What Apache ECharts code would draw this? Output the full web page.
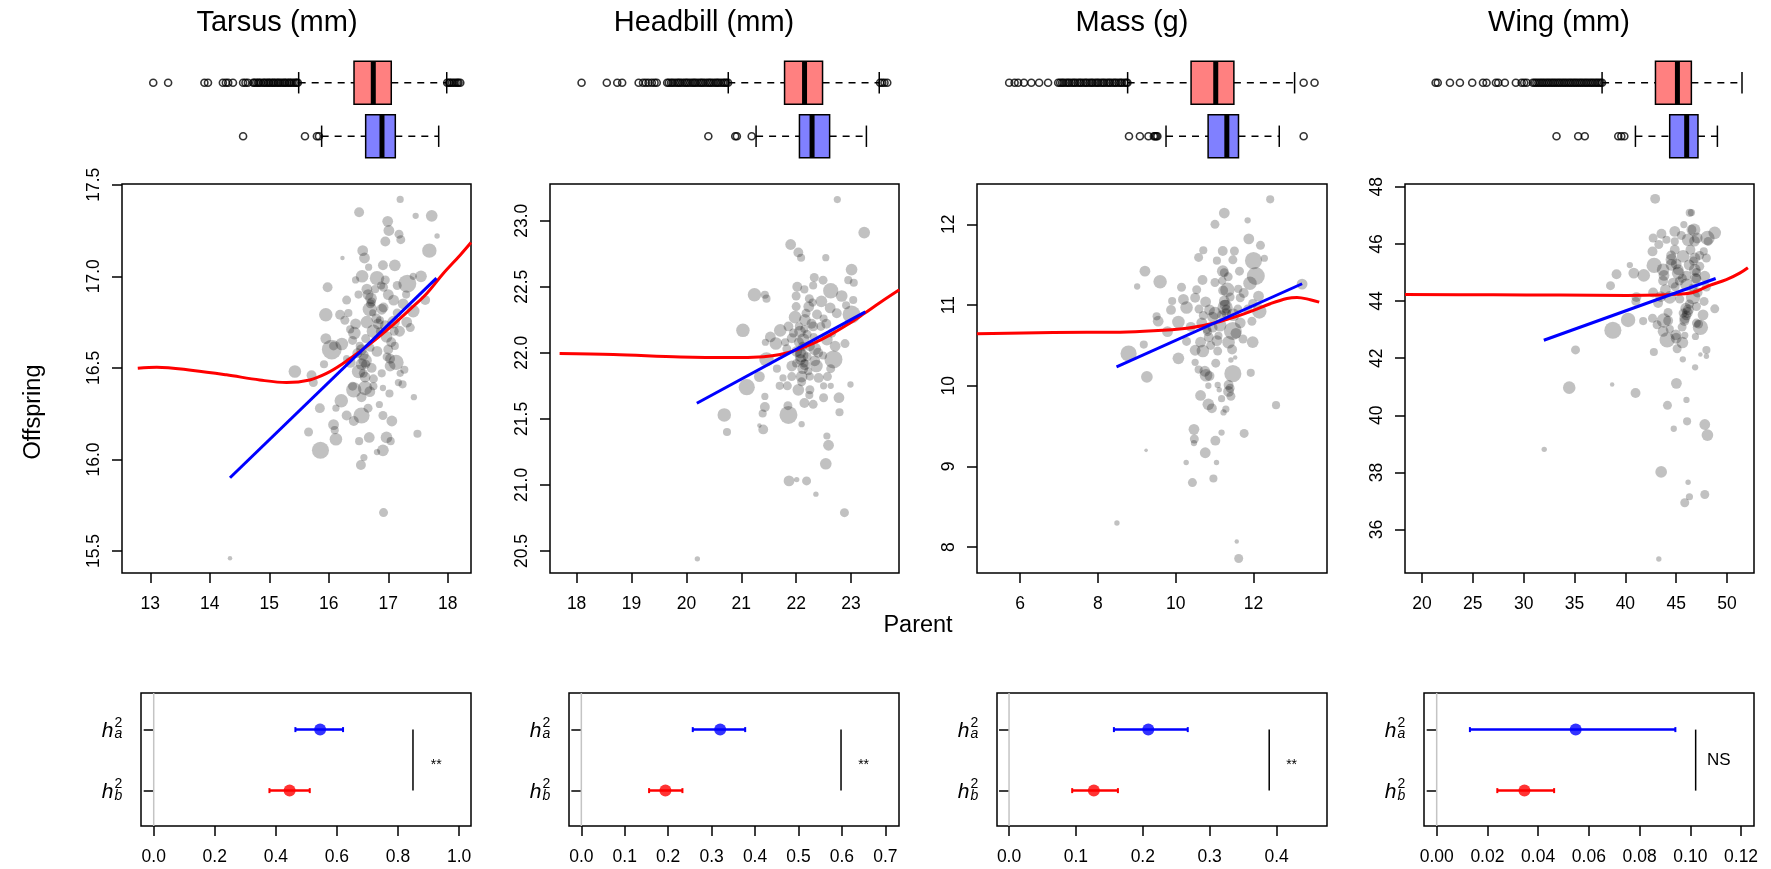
<!DOCTYPE html>
<html>
<head>
<meta charset="utf-8">
<script src="https://cdn.jsdelivr.net/npm/echarts@6/dist/echarts.min.js"></script>
<style>
html, body { margin: 0; padding: 0; background: #fff; }
#chart { width: 1771px; height: 869px; }
</style>
</head>
<body>
<div id="chart"></div>
<script>
// ---------- data ----------
const traitNames = ['Tarsus (mm)', 'Headbill (mm)', 'Mass (g)', 'Wing (mm)'];

// family means: [parent, offspring, brood weight]
const tarsusPoints = [
 [17.20,17.42,8],[16.51,17.35,11],[17.46,17.33,7],[17.73,17.33,13],[16.99,17.30,12],[17.01,17.25,12],[17.18,17.23,10],[17.82,17.22,6],
 [16.95,17.19,11],[17.21,17.20,10],[17.69,17.14,16],[16.57,17.14,12],[16.23,17.10,5],[16.60,17.10,12],[17.11,17.06,13],[16.91,17.06,11],
 [16.67,17.05,8],[16.56,17.00,14],[16.81,16.99,16],[16.95,16.98,10],[17.55,17.00,13],[17.42,17.00,8],[15.98,16.94,11],[17.32,16.96,20],
 [16.64,16.93,12],[16.92,16.94,10],[17.00,16.90,12],[16.30,16.87,10],[16.71,16.88,13],[17.09,16.87,12],[17.62,16.87,11],[16.69,16.82,16],
 [16.89,16.82,12],[17.42,16.81,14],[15.95,16.79,15],[16.19,16.79,11],[16.33,16.80,9],[16.45,16.74,12],[16.64,16.75,14],[16.83,16.74,12],
 [17.09,16.75,14],[17.31,16.75,12],[16.27,16.76,10],[17.37,16.72,10],[16.43,16.69,14],[16.36,16.71,9],[16.75,16.70,15],[17.19,16.70,12],
 [16.97,16.67,13],[15.95,16.66,12],[16.22,16.63,14],[16.05,16.60,22],[16.08,16.62,10],[16.55,16.60,12],[16.81,16.59,12],[17.00,16.60,11],
 [17.11,16.62,9],[17.13,16.53,17],[17.03,16.55,11],[16.61,16.54,15],[16.36,16.53,12],[15.92,16.52,9],[16.50,16.48,15],[16.72,16.50,11],
 [16.89,16.47,9],[17.03,16.51,12],[17.27,16.49,9],[17.20,16.47,8],[15.43,16.48,14],[15.71,16.46,11],[15.74,16.42,10],[16.61,16.45,12],
 [16.75,16.44,10],[17.17,16.42,8],[17.24,16.41,9],[16.40,16.40,10],[16.42,16.38,17],[16.61,16.39,16],[16.55,16.34,11],[16.91,16.39,7],
 [17.02,16.36,9],[16.69,16.37,12],[16.21,16.32,15],[17.43,16.34,7],[15.85,16.28,11],[16.12,16.28,8],[16.55,16.24,18],[16.30,16.24,11],
 [16.91,16.24,10],[17.06,16.21,12],[16.42,16.21,11],[16.08,16.19,12],[15.66,16.15,10],[16.10,16.16,9],[17.49,16.14,9],[16.12,16.11,14],
 [16.68,16.12,12],[16.97,16.12,13],[17.04,16.10,9],[16.51,16.10,9],[15.86,16.05,19],[16.91,16.05,13],[16.81,16.04,7],[16.59,16.01,8],
 [16.54,15.97,11],[16.92,15.71,10],[14.34,15.46,5],
 [16.70,16.85,10],[16.74,16.80,8],[16.58,16.57,12],[16.62,16.52,10],[16.86,16.76,9],[17.10,16.70,10],[16.52,16.62,9],[16.78,16.93,9],
 [16.66,16.90,12],[16.72,16.86,10],[16.80,16.77,11],[16.86,16.70,9],[16.95,16.73,12],[16.62,16.66,10],[16.70,16.61,9],[16.48,16.58,11],
 [16.55,16.52,13],[16.58,16.47,10],[16.98,16.56,10],[17.05,16.64,11],[17.15,16.80,10],[17.25,16.85,12],[16.88,16.95,9],[16.40,16.65,10],
 [16.30,16.55,8],[16.75,16.40,9],[16.85,16.30,8],[16.66,16.28,10],[17.30,16.90,9],[17.15,16.95,10],[16.50,16.90,9],[16.45,16.98,8],[16.92,16.83,11]
];
const headbillPoints = [
 [22.75,23.16,8],[23.24,22.91,13],[21.90,22.82,12],[22.04,22.76,11],[22.09,22.72,9],[22.54,22.72,8],[23.01,22.63,13],[22.33,22.57,10],
 [22.49,22.55,10],[22.95,22.55,9],[23.05,22.53,9],[22.02,22.50,11],[22.15,22.48,9],[22.31,22.51,9],[22.63,22.47,17],[21.24,22.44,15],
 [21.43,22.44,9],[21.46,22.41,9],[22.00,22.43,10],[22.24,22.41,10],[22.83,22.43,13],[22.46,22.39,13],[23.04,22.40,9],[22.91,22.36,9],
 [22.23,22.35,12],[22.62,22.34,12],[21.98,22.27,14],[22.38,22.29,11],[22.74,22.30,11],[23.01,22.29,20],[22.16,22.25,13],[22.50,22.26,9],
 [21.86,22.20,11],[21.71,22.17,14],[22.07,22.16,13],[22.31,22.20,11],[21.03,22.17,15],[21.53,22.12,12],[21.44,22.08,8],[21.63,22.07,14],
 [21.92,22.11,11],[22.13,22.10,14],[22.56,22.10,13],[22.89,22.07,10],[22.71,22.05,12],[21.83,22.03,10],[22.01,22.01,12],[22.34,22.03,14],
 [22.49,21.98,9],[22.10,21.98,15],[21.46,21.95,16],[22.68,21.95,20],[21.92,21.90,12],[22.16,21.91,12],[22.34,21.94,12],[22.37,21.90,14],
 [21.65,21.88,9],[22.63,21.88,10],[21.33,21.82,12],[21.76,21.81,8],[21.92,21.82,10],[22.10,21.82,13],[22.25,21.82,9],[22.41,21.81,11],
 [22.57,21.82,10],[21.10,21.74,18],[21.70,21.75,9],[21.84,21.75,10],[22.04,21.72,13],[22.25,21.72,10],[22.50,21.75,8],[22.63,21.75,7],
 [22.99,21.76,7],[22.24,21.68,9],[21.43,21.67,8],[22.50,21.66,10],[22.78,21.66,12],[20.69,21.53,15],[21.43,21.59,11],[21.85,21.60,10],
 [22.15,21.62,11],[22.31,21.61,10],[21.39,21.54,9],[21.86,21.53,20],[22.79,21.55,9],[21.33,21.45,5],[21.40,21.42,11],[22.10,21.46,7],
 [20.74,21.40,9],[22.56,21.37,8],[22.59,21.30,12],[22.54,21.16,13],[21.87,21.03,12],[22.01,21.04,6],[22.19,21.03,10],[22.36,20.93,6],
 [22.88,20.79,10],[20.20,20.44,6],
 [22.12,22.05,10],[22.08,21.95,12],[22.15,21.92,9],[22.20,22.14,10],[22.05,22.20,9],[22.28,22.22,11],[22.18,22.30,10],
 [22.05,22.08,11],[22.12,21.88,12],[22.20,21.97,10],[22.00,21.92,9],[22.25,22.05,11],[22.32,22.12,9],[21.95,22.15,10],[22.40,22.00,11],
 [22.15,22.18,9],[22.10,21.78,10],[22.22,21.86,9],[22.45,22.20,10],[22.55,22.22,11],[21.80,22.08,9],[22.00,22.35,10],[22.30,22.38,9],
 [22.65,22.15,10],[22.08,22.00,12]
];
const massPoints = [
 [12.43,12.31,9],[11.25,12.14,12],[11.01,12.00,10],[11.85,12.05,7],[11.88,11.82,12],[12.18,11.74,10],[10.71,11.68,9],[10.59,11.59,10],
 [11.21,11.67,11],[11.51,11.67,10],[12.28,11.58,8],[11.06,11.55,9],[11.47,11.56,10],[12.00,11.55,19],[9.21,11.42,12],[11.21,11.42,13],
 [11.64,11.42,10],[12.06,11.36,20],[9.01,11.23,7],[9.60,11.29,15],[10.69,11.31,11],[11.01,11.28,10],[11.91,11.27,15],[13.25,11.26,12],
 [10.15,11.22,10],[10.54,11.19,10],[11.33,11.19,16],[11.61,11.20,9],[12.13,11.11,12],[9.91,11.05,9],[10.20,11.07,12],[10.50,11.09,11],
 [10.77,11.04,12],[11.66,11.09,10],[9.88,10.94,11],[10.28,10.97,14],[10.87,10.94,12],[11.27,10.97,17],[11.98,11.02,10],[9.51,10.86,9],
 [9.55,10.80,12],[10.71,10.87,10],[11.01,10.90,14],[11.48,10.88,14],[12.15,10.92,16],[10.07,10.79,14],[10.39,10.73,11],[10.67,10.78,12],
 [11.14,10.75,14],[11.66,10.78,12],[11.96,10.80,10],[9.79,10.67,12],[10.82,10.67,10],[11.47,10.68,20],[10.28,10.55,10],[10.64,10.54,12],
 [11.06,10.56,12],[11.36,10.54,14],[11.98,10.54,13],[11.73,10.58,10],[9.18,10.51,9],[8.79,10.40,18],[10.50,10.44,12],[10.70,10.43,14],
 [11.08,10.43,10],[10.07,10.34,13],[11.42,10.32,6],[11.53,10.35,5],[10.50,10.29,8],[11.03,10.28,10],[10.59,10.20,9],[10.78,10.13,14],
 [10.87,10.12,11],[11.47,10.15,19],[11.93,10.16,9],[9.26,10.11,13],[10.84,10.00,7],[11.08,10.01,7],[11.36,10.01,11],[11.12,9.95,6],
 [11.36,9.93,12],[10.64,9.88,12],[11.42,9.87,10],[11.18,9.84,8],[10.84,9.77,13],[10.93,9.72,11],[12.58,9.76,9],[11.29,9.71,8],
 [11.23,9.67,7],[10.47,9.46,12],[11.18,9.42,7],[11.76,9.41,10],[10.48,9.34,10],[11.02,9.32,11],[10.47,9.29,7],[9.24,9.20,4],
 [10.76,9.17,12],[10.27,9.05,6],[11.05,9.05,6],[10.97,8.85,9],[10.43,8.80,10],[8.49,8.30,6],[11.57,8.07,5],[11.62,7.86,10],
 [11.27,11.00,12],[11.30,10.95,10],[11.22,11.18,11],[11.25,11.40,10],[10.95,10.85,12],[10.85,10.60,11],
 [11.25,11.05,12],[11.30,10.90,11],[11.18,10.88,10],[11.35,11.35,10],[11.20,11.30,9],[10.95,10.72,11],[10.80,10.70,10],[11.55,10.65,12],
 [11.60,10.95,10],[10.90,10.50,10],[11.10,10.62,9],[11.40,11.10,10],[11.45,10.45,11],[10.60,10.95,10],[11.75,11.15,11],[11.85,10.95,10],
 [10.75,10.18,12],[11.40,9.97,10]
];
const wingPoints = [
 [42.93,47.58,11],[46.33,47.09,9],[46.50,47.10,8],[43.55,46.36,11],[42.73,46.21,10],[44.04,46.15,9],[44.86,46.44,12],[45.75,46.68,8],
 [46.76,46.50,14],[48.79,46.39,14],[48.07,46.21,16],[48.14,46.09,10],[46.17,46.15,14],[47.06,46.21,12],[44.86,46.09,9],[43.29,45.98,10],
 [44.86,45.80,11],[42.67,45.74,11],[47.71,45.74,9],[45.68,45.57,14],[47.97,45.51,10],[44.53,45.45,13],[46.83,45.51,12],[40.44,45.26,7],
 [42.83,45.25,17],[44.53,45.27,13],[46.27,45.27,12],[47.32,45.22,10],[43.71,45.10,14],[45.19,44.98,14],[46.83,45.10,13],[40.83,44.98,12],
 [39.13,44.94,11],[41.81,44.90,14],[46.00,44.89,11],[47.81,44.87,12],[46.99,44.78,11],[43.71,44.71,11],[38.54,44.54,10],[44.70,44.63,12],
 [46.01,44.57,14],[43.94,44.40,12],[46.66,44.46,10],[47.97,44.49,10],[42.73,44.30,11],[43.48,44.16,12],[44.37,44.13,14],[46.66,44.14,16],
 [45.35,44.07,10],[41.09,44.14,11],[43.22,43.93,11],[47.74,43.99,10],[41.03,43.99,10],[45.94,43.75,12],[46.99,43.81,10],[48.79,43.73,10],
 [47.64,43.52,12],[45.68,43.58,10],[45.84,43.40,12],[40.27,43.34,16],[41.75,43.30,9],[42.67,43.40,10],[43.78,43.32,16],[44.21,43.31,11],
 [43.12,43.17,10],[46.99,43.23,10],[47.38,43.08,17],[44.37,43.02,9],[45.58,43.09,10],[38.77,42.98,19],[43.71,42.94,12],[44.96,42.82,12],
 [45.84,42.80,8],[46.89,42.76,8],[44.11,42.64,17],[45.61,42.55,13],[45.09,42.33,10],[35.10,42.29,10],[47.97,42.29,9],[42.80,42.22,9],
 [47.38,42.13,5],[47.97,42.07,6],[45.65,41.96,7],[46.86,41.68,7],[34.48,40.97,14],[38.70,41.08,5],[45.02,41.12,12],[41.00,40.78,11],
 [46.01,40.54,7],[44.14,40.35,10],[46.07,39.79,9],[44.76,39.53,7],[47.81,39.68,12],[48.07,39.31,13],[32.02,38.81,6],[43.52,38.02,13],
 [46.17,37.66,6],[46.30,37.15,8],[45.84,36.94,10],[47.81,37.23,10],[43.29,34.97,6],
 [45.00,45.30,12],[46.20,43.70,12],[46.00,43.50,11],[46.70,45.40,10],[46.90,44.80,12],[45.30,44.70,10],
 [45.20,45.10,12],[45.60,44.80,10],[46.40,45.80,11],[46.80,46.10,12],[47.00,45.00,10],[46.10,43.60,12],[46.30,43.90,10],[45.80,43.30,11],
 [44.50,45.60,11],[44.90,44.50,10],[43.80,44.90,12],[47.30,45.60,10],[47.10,44.30,11],[45.50,46.30,10],[46.50,46.50,11],[44.20,43.60,10],
 [45.00,42.70,12],[47.20,43.20,10]
];

// loess smooths: [parent, fitted offspring]
const tarsusLoess = [[12.79,16.498],[13.11,16.504],[13.72,16.486],[14.28,16.462],[14.84,16.434],[15.29,16.420],[15.68,16.434],[15.97,16.471],[16.25,16.526],[16.52,16.589],[16.81,16.662],[17.08,16.735],[17.37,16.821],[17.65,16.908],[17.92,17.014],[18.21,17.117],[18.39,17.185]];
const headbillLoess = [[17.69,21.994],[18.67,21.987],[19.89,21.969],[20.80,21.964],[21.41,21.971],[21.71,21.987],[22.01,22.022],[22.32,22.073],[22.62,22.136],[22.93,22.212],[23.23,22.295],[23.53,22.381],[23.88,22.477]];
const massLoess = [[4.89,10.644],[6.85,10.660],[8.57,10.664],[9.43,10.681],[10.29,10.714],[10.71,10.747],[11.14,10.797],[11.57,10.859],[12.00,10.933],[12.43,11.016],[12.86,11.082],[13.12,11.095],[13.46,11.066],[13.69,11.037]];
const wingLoess = [[18.33,44.23],[27.00,44.22],[33.56,44.21],[40.11,44.20],[43.38,44.21],[45.02,44.24],[46.65,44.30],[48.29,44.55],[49.93,44.75],[51.24,44.98],[52.05,45.17]];

// parent-offspring regression: end points of the fitted line
const tarsusFit = [[14.34,15.90],[17.81,16.99]];
const headbillFit = [[20.19,21.618],[23.26,22.31]];
const massFit = [[8.48,10.234],[13.25,11.264]];
const wingFit = [[31.98,42.63],[48.88,44.79]];

// boxplot five-number summaries: [lower whisker, Q1, median, Q3, upper whisker]
const tarsusBoxAll = [15.494,16.424,16.748,17.050,17.982];
const tarsusBoxPar = [15.880,16.620,16.894,17.118,17.847];
const headbillBoxAll = [20.763,21.789,22.153,22.481,23.514];
const headbillBoxPar = [21.270,22.060,22.290,22.610,23.280];
const massBoxAll = [8.765,10.396,11.030,11.496,13.057];
const massBoxPar = [9.752,10.834,11.315,11.615,12.663];
const wingBoxAll = [37.71,42.96,45.12,46.49,51.47];
const wingBoxPar = [40.99,44.36,46.03,47.14,49.05];

// boxplot outliers
const tarsusOutAll = [13.05,13.30,13.91,13.97,14.22,14.27,14.31,14.39,14.56,14.60,14.64,14.73,14.75,14.78,14.81,14.83,14.86,14.90,14.92,14.95,14.98,15.00,15.03,15.06,15.08,15.11,15.14,15.16,15.19,15.22,15.25,15.27,15.30,15.33,15.35,15.38,15.41,15.44,15.46,15.48,17.99,18.02,18.04,18.07,18.10,18.13,18.16,18.18,18.21];
const tarsusOutPar = [14.56,15.60,15.80,15.835];
const headbillOutAll = [18.09,18.55,18.74,18.83,19.13,19.21,19.26,19.31,19.37,19.42,19.46,19.65,19.68,19.72,19.75,19.79,19.83,19.86,19.89,19.93,19.97,20.00,20.03,20.07,20.11,20.14,20.17,20.21,20.25,20.28,20.31,20.35,20.39,20.42,20.45,20.49,20.53,20.56,20.59,20.63,20.67,20.70,20.73,20.76,23.53,23.57,23.61,23.66];
const headbillOutPar = [20.40,20.89,20.92,21.19];
const massOutAll = [5.72,5.86,5.95,6.10,6.29,6.49,6.72,6.98,7.03,7.08,7.12,7.18,7.23,7.27,7.33,7.38,7.42,7.48,7.53,7.57,7.63,7.68,7.72,7.78,7.83,7.87,7.93,7.98,8.02,8.08,8.13,8.17,8.23,8.28,8.32,8.38,8.43,8.47,8.53,8.58,8.62,8.68,8.73,8.76,13.29,13.57];
const massOutPar = [8.80,9.08,9.30,9.44,9.47,9.50,9.53,13.29];
const wingOutAll = [21.34,21.55,22.75,23.73,24.94,26.00,26.35,27.27,27.50,28.15,29.23,29.80,30.05,30.30,30.90,31.08,31.25,31.44,31.62,31.80,31.97,32.16,32.34,32.51,32.70,32.88,33.05,33.24,33.42,33.59,33.78,33.96,34.13,34.32,34.50,34.67,34.86,35.04,35.21,35.40,35.58,35.75,35.94,36.12,36.29,36.48,36.66,36.83,37.02,37.20,37.37,37.56,37.71];
const wingOutPar = [33.23,35.36,36.01,39.30,39.60,39.90];

// heritability estimates: [lower CI, estimate, upper CI]
const h2a = [[0.464,0.545,0.620],[0.2566,0.3197,0.3773],[0.1568,0.2082,0.2672],[0.0131,0.0548,0.0941]];
const h2b = [[0.379,0.445,0.511],[0.156,0.1936,0.2328],[0.0944,0.1268,0.1628],[0.0239,0.0346,0.0463]];
const sigLineX = [0.849, 0.598, 0.389, 0.1021];
const sigLabelX = [0.925, 0.650, 0.4225, 0.1112];
const sigLabels = ['**', '**', '**', 'NS'];
const hRows = [2, 1];
const hSubscripts = ['a', 'b'];

// tick values
const tarsusXTicks = [13,14,15,16,17,18];
const tarsusYTicks = [15.5,16.0,16.5,17.0,17.5];
const headbillXTicks = [18,19,20,21,22,23];
const headbillYTicks = [20.5,21.0,21.5,22.0,22.5,23.0];
const massXTicks = [6,8,10,12];
const massYTicks = [8,9,10,11,12];
const wingXTicks = [20,25,30,35,40,45,50];
const wingYTicks = [36,38,40,42,44,46,48];
const tarsusHTicks = [0,0.2,0.4,0.6,0.8,1.0];
const headbillHTicks = [0,0.1,0.2,0.3,0.4,0.5,0.6,0.7];
const massHTicks = [0,0.1,0.2,0.3,0.4];
const wingHTicks = [0,0.02,0.04,0.06,0.08,0.10,0.12];

// ---------- layout & styling ----------
const FONT = '"Liberation Sans", Arial, Helvetica, sans-serif';
const RED = '#ff0000', BLUE = '#0000ff';
const RED_FILL = '#ff8080', BLUE_FILL = '#8080ff';

const panels = [
  { name: traitNames[0], pts: tarsusPoints, loess: tarsusLoess, fit: tarsusFit, boxAll: tarsusBoxAll, boxPar: tarsusBoxPar, outAll: tarsusOutAll, outPar: tarsusOutPar, xt: tarsusXTicks, yt: tarsusYTicks, ht: tarsusHTicks,
    left: 122, width: 349, fleft: 141, xr: [12.525, 18.39], yr: [15.38, 17.504], hr: [-0.0416, 1.039], xd: 0, yd: 1, hd: 1, titleX: 277 },
  { name: traitNames[1], pts: headbillPoints, loess: headbillLoess, fit: headbillFit, boxAll: headbillBoxAll, boxPar: headbillBoxPar, outAll: headbillOutAll, outPar: headbillOutPar, xt: headbillXTicks, yt: headbillYTicks, ht: headbillHTicks,
    left: 550, width: 349, fleft: 569, xr: [17.515, 23.874], yr: [20.333, 23.278], hr: [-0.0284, 0.7315], xd: 0, yd: 1, hd: 1, titleX: 704 },
  { name: traitNames[2], pts: massPoints, loess: massLoess, fit: massFit, boxAll: massBoxAll, boxPar: massBoxPar, outAll: massOutAll, outPar: massOutPar, xt: massXTicks, yt: massYTicks, ht: massHTicks,
    left: 977, width: 350, fleft: 997, xr: [4.893, 13.89], yr: [7.68, 12.50], hr: [-0.018, 0.4754], xd: 0, yd: 0, hd: 1, titleX: 1132 },
  { name: traitNames[3], pts: wingPoints, loess: wingLoess, fit: wingFit, boxAll: wingBoxAll, boxPar: wingBoxPar, outAll: wingOutAll, outPar: wingOutPar, xt: wingXTicks, yt: wingYTicks, ht: wingHTicks,
    left: 1405, width: 349, fleft: 1424, xr: [18.33, 52.65], yr: [34.48, 48.1], hr: [-0.005, 0.1251], xd: 0, yd: 0, hd: 2, titleX: 1559 }
];

const SC_TOP = 184, SC_H = 389;
const BOX_TOP = 56, BOX_H = 107;
const FO_TOP = 693, FO_H = 133;
const FO_YR = [0.42, 2.6];

function tickAxis(gridIndex, range, ticks, dec, vertical) {
  return {
    gridIndex, type: 'value', min: range[0], max: range[1],
    axisLine: { show: false }, splitLine: { show: false },
    axisTick: { show: true, inside: false, length: 10, customValues: ticks, lineStyle: { color: '#000', width: 1.5 } },
    axisLabel: {
      show: true, customValues: ticks, color: '#000', fontSize: 17.5, fontFamily: FONT,
      margin: vertical ? 19 : 22, rotate: vertical ? 90 : 0,
      formatter: v => Number(v).toFixed(dec)
    }
  };
}

function renderBox(params, api) {
  const row = api.value(5);
  const y = api.coord([api.value(2), row])[1];
  const h = api.size([0, 0.8])[1];
  const px = k => api.coord([api.value(k), row])[0];
  const lo = px(0), q1 = px(1), md = px(2), q3 = px(3), hi = px(4);
  const solid = { stroke: '#000', lineWidth: 1.5 };
  const dash = { stroke: '#000', lineWidth: 1.5, lineDash: [7, 6] };
  return { type: 'group', children: [
    { type: 'line', shape: { x1: lo, y1: y, x2: q1, y2: y }, style: dash },
    { type: 'line', shape: { x1: q3, y1: y, x2: hi, y2: y }, style: dash },
    { type: 'line', shape: { x1: lo, y1: y - h / 4, x2: lo, y2: y + h / 4 }, style: solid },
    { type: 'line', shape: { x1: hi, y1: y - h / 4, x2: hi, y2: y + h / 4 }, style: solid },
    { type: 'rect', shape: { x: q1, y: y - h / 2, width: q3 - q1, height: h }, style: { fill: row === 2 ? RED_FILL : BLUE_FILL, stroke: '#000', lineWidth: 1.5 } },
    { type: 'line', shape: { x1: md, y1: y - h / 2, x2: md, y2: y + h / 2 }, style: { stroke: '#000', lineWidth: 5 } }
  ]};
}

function renderErrorBar(params, api) {
  const row = api.value(3);
  const color = row === 2 ? BLUE : RED;
  const a = api.coord([api.value(0), row]);
  const b = api.coord([api.value(2), row]);
  const st = { stroke: color, lineWidth: 2.5 };
  return { type: 'group', children: [
    { type: 'line', shape: { x1: a[0], y1: a[1], x2: b[0], y2: b[1] }, style: st },
    { type: 'line', shape: { x1: a[0], y1: a[1] - 2.5, x2: a[0], y2: a[1] + 2.5 }, style: { stroke: color, lineWidth: 2 } },
    { type: 'line', shape: { x1: b[0], y1: b[1] - 2.5, x2: b[0], y2: b[1] + 2.5 }, style: { stroke: color, lineWidth: 2 } }
  ]};
}

const grids = [], xAxes = [], yAxes = [], series = [], graphics = [];

panels.forEach((p, i) => {
  // boxplots of all birds (red) and parents (blue)
  const gb = grids.length;
  grids.push({ left: p.left, top: BOX_TOP, width: p.width, height: BOX_H, show: false });
  xAxes.push({ gridIndex: gb, type: 'value', min: p.xr[0], max: p.xr[1], show: false });
  yAxes.push({ gridIndex: gb, type: 'value', min: 0.5, max: 2.5, show: false });
  series.push({
    type: 'custom', xAxisIndex: gb, yAxisIndex: gb, silent: true, renderItem: renderBox,
    encode: { x: [0, 1, 2, 3, 4], y: 5 },
    data: [p.boxAll.concat([2]), p.boxPar.concat([1])]
  });
  series.push({
    type: 'scatter', xAxisIndex: gb, yAxisIndex: gb, silent: true, symbol: 'circle', symbolSize: 7,
    itemStyle: { color: 'rgba(0,0,0,0)', borderColor: '#000', borderWidth: 1.6 },
    data: p.outAll.map(v => [v, 2]).concat(p.outPar.map(v => [v, 1]))
  });

  // parent-offspring scatter
  const gs = grids.length;
  grids.push({ left: p.left, top: SC_TOP, width: p.width, height: SC_H, show: true, borderColor: '#000', borderWidth: 1.5, backgroundColor: 'transparent' });
  xAxes.push(tickAxis(gs, p.xr, p.xt, p.xd, false));
  yAxes.push(tickAxis(gs, p.yr, p.yt, p.yd, true));
  series.push({
    type: 'scatter', xAxisIndex: gs, yAxisIndex: gs, silent: true,
    symbolSize: v => v[2] * 0.9, itemStyle: { color: 'rgba(0,0,0,0.3)' }, data: p.pts
  });
  series.push({
    type: 'line', xAxisIndex: gs, yAxisIndex: gs, silent: true, smooth: 0.35, symbol: 'none',
    lineStyle: { color: RED, width: 3 }, data: p.loess
  });
  series.push({
    type: 'line', xAxisIndex: gs, yAxisIndex: gs, silent: true, symbol: 'none',
    lineStyle: { color: BLUE, width: 3 }, data: p.fit
  });

  // heritability estimates
  const gf = grids.length;
  grids.push({ left: p.fleft, top: FO_TOP, width: p.left + p.width - p.fleft, height: FO_H, show: true, borderColor: '#000', borderWidth: 1.5, backgroundColor: 'transparent' });
  xAxes.push(tickAxis(gf, p.hr, p.ht, p.hd, false));
  yAxes.push({
    gridIndex: gf, type: 'value', min: FO_YR[0], max: FO_YR[1],
    axisLine: { show: false }, splitLine: { show: false },
    axisTick: { show: true, length: 10, customValues: hRows, lineStyle: { color: '#000', width: 1.5 } },
    axisLabel: { show: false }
  });
  series.push({
    type: 'custom', xAxisIndex: gf, yAxisIndex: gf, silent: true, encode: { x: 0 },
    data: [[0]],
    renderItem: (params, api) => {
      const a = api.coord([api.value(0), FO_YR[0]]), b = api.coord([api.value(0), FO_YR[1]]);
      return { type: 'line', shape: { x1: a[0], y1: a[1], x2: b[0], y2: b[1] }, style: { stroke: '#c4c4c4', lineWidth: 1.5 } };
    }
  });
  series.push({
    type: 'custom', xAxisIndex: gf, yAxisIndex: gf, silent: true, renderItem: renderErrorBar,
    encode: { x: [0, 1, 2], y: 3 },
    data: [h2a[i].concat([2]), h2b[i].concat([1])]
  });
  series.push({
    type: 'scatter', xAxisIndex: gf, yAxisIndex: gf, silent: true, symbolSize: 12,
    data: [
      { value: [h2a[i][1], 2], itemStyle: { color: BLUE } },
      { value: [h2b[i][1], 1], itemStyle: { color: RED } }
    ]
  });
  series.push({
    type: 'custom', xAxisIndex: gf, yAxisIndex: gf, silent: true, encode: { x: [0, 1] },
    data: [[sigLineX[i], sigLabelX[i]]],
    renderItem: (params, api) => {
      const a = api.coord([api.value(0), 1]), b = api.coord([api.value(0), 2]);
      const t = api.coord([api.value(1), 1.5]);
      const label = sigLabels[i];
      const stars = label.indexOf('*') >= 0;
      return { type: 'group', children: [
        { type: 'line', shape: { x1: a[0], y1: a[1], x2: b[0], y2: b[1] }, style: { stroke: '#000', lineWidth: 1.5 } },
        { type: 'text', x: t[0], y: t[1] + (stars ? 5 : 0), style: {
            text: label, fill: '#000', fontFamily: FONT, fontSize: stars ? 14 : 17,
            align: 'center', verticalAlign: 'middle', textAlign: 'center', textVerticalAlign: 'middle' } }
      ]};
    }
  });
  // row labels h²_a / h²_b
  series.push({
    type: 'custom', xAxisIndex: gf, yAxisIndex: gf, silent: true, encode: { y: 0 },
    data: hRows.map(r => [r]),
    renderItem: (params, api) => {
      const c = api.coord([p.hr[0], api.value(0)]);
      const x0 = c[0], y = c[1];
      const sub = hSubscripts[params.dataIndex];
      const base = { fill: '#000', fontFamily: FONT, verticalAlign: 'middle', textVerticalAlign: 'middle' };
      return { type: 'group', children: [
        { type: 'text', x: x0 - 27.5, y: y + 1.5, style: Object.assign({ text: 'h', fontSize: 21, fontStyle: 'italic', align: 'right', textAlign: 'right' }, base) },
        { type: 'text', x: x0 - 26.5, y: y - 6, style: Object.assign({ text: '2', fontSize: 14, align: 'left', textAlign: 'left' }, base) },
        { type: 'text', x: x0 - 26.5, y: y + 5, style: Object.assign({ text: sub, fontSize: 14, fontStyle: 'italic', align: 'left', textAlign: 'left' }, base) }
      ]};
    }
  });

  graphics.push({
    type: 'text', x: p.titleX, y: 22.5, silent: true,
    style: { text: p.name, fill: '#000', font: '29px ' + FONT, textAlign: 'center', textVerticalAlign: 'middle' }
  });
});

graphics.push({
  type: 'text', x: 918, y: 626, silent: true,
  style: { text: 'Parent', fill: '#000', font: '23.5px ' + FONT, textAlign: 'center', textVerticalAlign: 'middle' }
});
graphics.push({
  type: 'text', x: 34, y: 412, rotation: Math.PI / 2, silent: true,
  style: { text: 'Offspring', fill: '#000', font: '23.5px ' + FONT, textAlign: 'center', textVerticalAlign: 'middle' }
});

const chart = echarts.init(document.getElementById('chart'), null, { renderer: 'canvas', width: 1771, height: 869 });
chart.setOption({
  backgroundColor: '#fff',
  animation: false,
  grid: grids,
  xAxis: xAxes,
  yAxis: yAxes,
  series: series,
  graphic: graphics
});
</script>
</body>
</html>
